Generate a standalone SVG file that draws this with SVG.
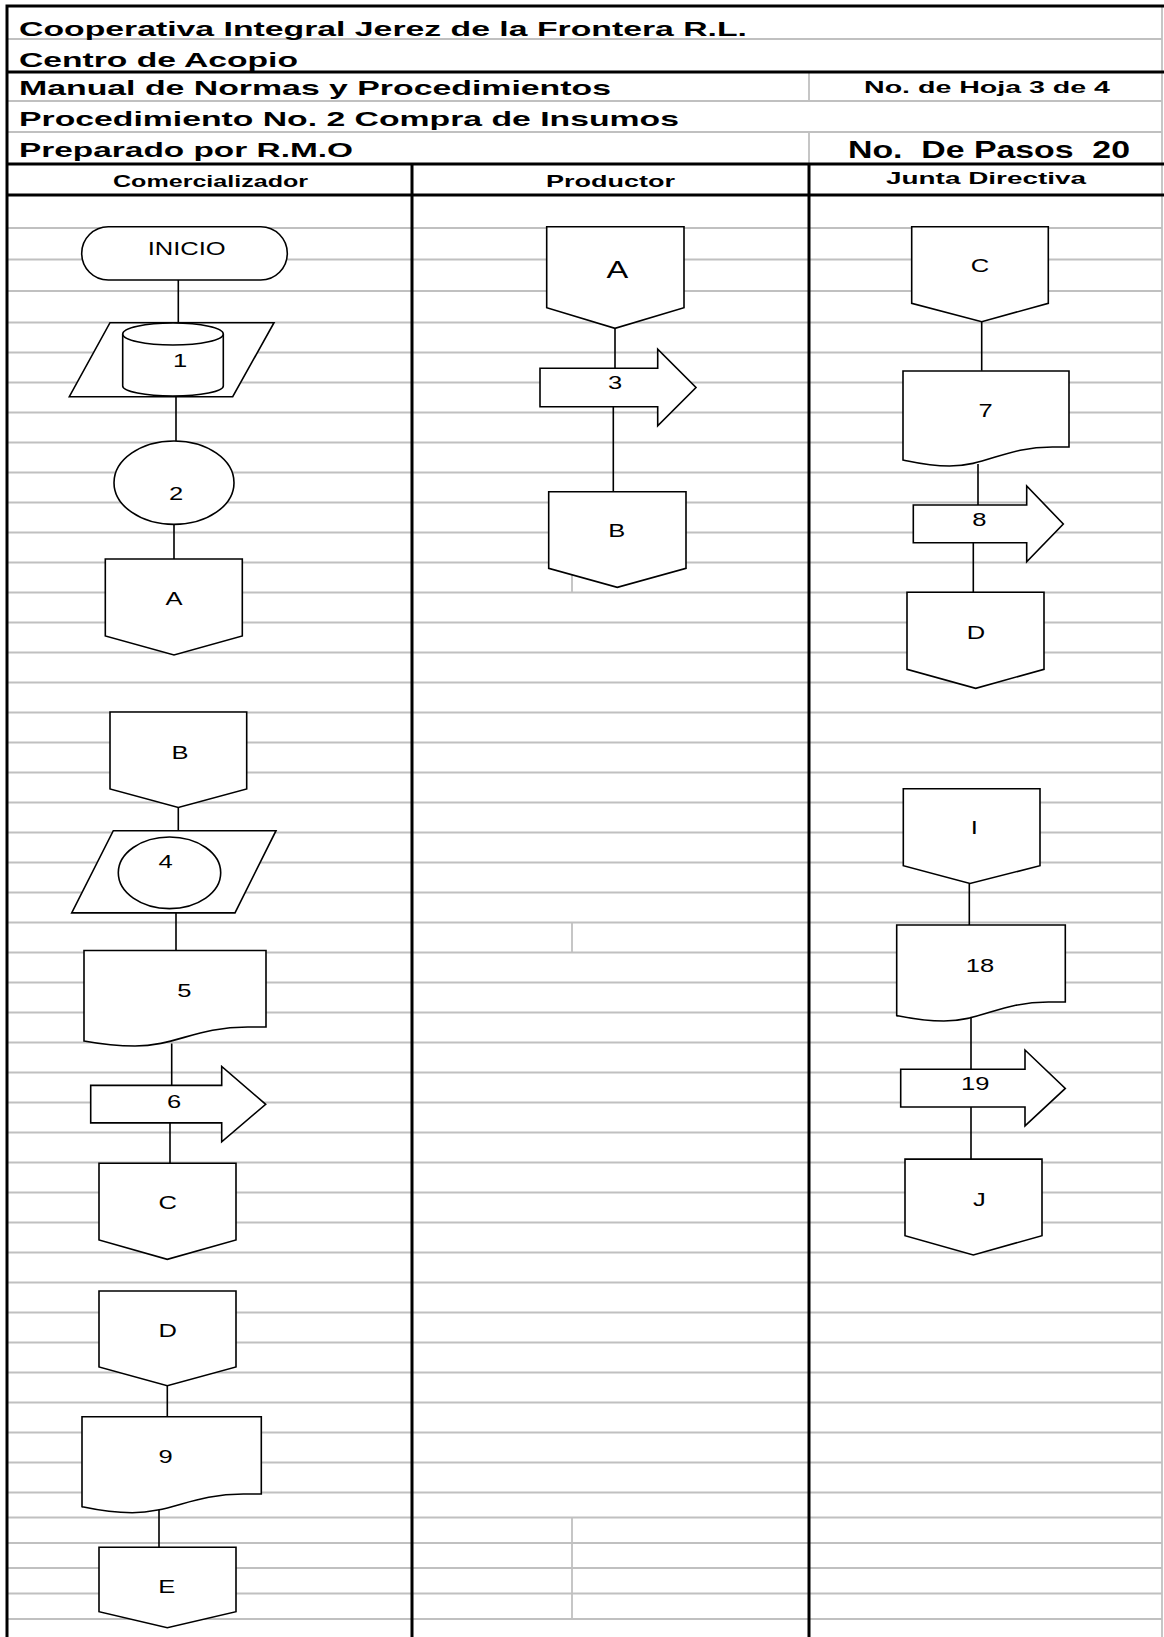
<svg xmlns="http://www.w3.org/2000/svg" width="1164" height="1637" viewBox="0 0 1164 1637">
<style>
.grid{fill:none;stroke:#c0c0c0;stroke-width:1.8}
.bord{fill:none;stroke:#000;stroke-width:3}
.shape{fill:#fff;stroke:#000;stroke-width:1.6;stroke-linejoin:miter}
.conn{fill:none;stroke:#000;stroke-width:1.6}
.h{font-family:"Liberation Sans",Arial,sans-serif;font-weight:bold;fill:#000}
.pre{white-space:pre}
.n{font-family:"Liberation Sans",Arial,sans-serif;font-size:18.5px;fill:#000;text-anchor:middle}
.big{font-size:24px}
</style>
<rect x="0" y="0" width="1164" height="1637" fill="#fff"/>
<g id="grid">
<path class="grid" d="M7 39H1162M7 101H1162M7 132H1162M7 228H1162M7 259.5H1162M7 291H1162M7 322.5H1162M7 352.5H1162M7 382.5H1162M7 412.5H1162M7 442.5H1162M7 472.5H1162M7 502.5H1162M7 532.5H1162M7 562.5H1162M7 592.5H1162M7 622.5H1162M7 652.5H1162M7 682.5H1162M7 712.5H1162M7 742.5H1162M7 772.5H1162M7 802.5H1162M7 832.5H1162M7 862.5H1162M7 892.5H1162M7 922.5H1162M7 952.5H1162M7 982.5H1162M7 1012.5H1162M7 1042.5H1162M7 1072.5H1162M7 1102.5H1162M7 1132.5H1162M7 1162.5H1162M7 1192.5H1162M7 1222.5H1162M7 1252.5H1162M7 1282.5H1162M7 1312.5H1162M7 1342.5H1162M7 1372.5H1162M7 1402.5H1162M7 1432.5H1162M7 1462.5H1162M7 1492.5H1162M7 1517.5H1162M7 1543H1162M7 1568H1162M7 1593.5H1162M7 1619H1162"/>
<path class="grid" d="M809 72V101M809 132V164M572 562.5V592.5M572 922.5V952.5M572 1517.5V1619M1162 6V1637"/>
</g>
<g id="frame">
<path class="bord" d="M5.5 6H1164M5.5 72H1164M5.5 164H1164M5.5 195H1164M7 4.5V1637M412 164V1637M809 164V1637"/>
</g>
<g id="header">
<text class="h" x="19" y="36" font-size="21" textLength="728" lengthAdjust="spacingAndGlyphs">Cooperativa Integral Jerez de la Frontera R.L.</text>
<text class="h" x="19" y="67" font-size="21" textLength="279" lengthAdjust="spacingAndGlyphs">Centro de Acopio</text>
<text class="h" x="19" y="95" font-size="21" textLength="592" lengthAdjust="spacingAndGlyphs">Manual de Normas y Procedimientos</text>
<text class="h" x="864" y="93" font-size="16" textLength="246" lengthAdjust="spacingAndGlyphs">No. de Hoja 3 de 4</text>
<text class="h" x="19" y="126" font-size="21" textLength="660" lengthAdjust="spacingAndGlyphs">Procedimiento No. 2 Compra de Insumos</text>
<text class="h" x="19" y="157" font-size="21" textLength="334" lengthAdjust="spacingAndGlyphs">Preparado por R.M.O</text>
<text class="h pre" xml:space="preserve" x="848" y="158" font-size="23" textLength="282" lengthAdjust="spacingAndGlyphs">No.  De Pasos  20</text>
<text class="h" x="113" y="187" font-size="17" textLength="195" lengthAdjust="spacingAndGlyphs">Comercializador</text>
<text class="h" x="546" y="187" font-size="17" textLength="129" lengthAdjust="spacingAndGlyphs">Productor</text>
<text class="h" x="886" y="184" font-size="17" textLength="200" lengthAdjust="spacingAndGlyphs">Junta Directiva</text>
</g>
<g id="connectors">
<path class="conn" d="M178.3 280V322.7M176 396.7V441M174 524.3V559M615 328.3V368.3M613.3 406.7V491.7M981.7 321.7V370.7M978 464V505M973.3 542.7V592.3M178.3 807.5V830.7M176 912.9V950.4M171.7 1043.6V1085.4M170 1122.9V1163.2M167.3 1385.7V1416.7M159 1508V1549M969.3 883.5V924.9M971 1017V1069.2M971 1107V1159.1"/>
</g>
<g id="n-inicio">
<rect class="shape" x="81.7" y="226.7" width="205.6" height="53.3" rx="26.6" ry="26.6"/>
<text class="n" transform="translate(186.7 255) scale(1.38 1)">INICIO</text>
</g>
<g id="n-1">
<path class="shape" d="M110 322.7H274L232.7 396.7H69.3Z"/>
<path class="shape" d="M122.7 334V386A50.3 10 0 0 0 223.3 386V334"/>
<ellipse class="shape" cx="173" cy="334" rx="50.3" ry="11"/>
<text class="n" transform="translate(180 366.7) scale(1.38 1)">1</text>
</g>
<g id="n-2">
<ellipse class="shape" cx="174" cy="482.7" rx="60" ry="41.7"/>
<text class="n" transform="translate(176 500) scale(1.38 1)">2</text>
</g>
<g id="n-a1">
<path class="shape" d="M105.3 559H242.3V636L174 655L105.3 636Z"/>
<text class="n" transform="translate(174 605) scale(1.38 1)">A</text>
</g>
<g id="n-a2">
<path class="shape" d="M546.7 226.7H684V307.7L615 328.3L546.7 307.7Z"/>
<text class="n big" transform="translate(617.3 278.3) scale(1.36 1)">A</text>
</g>
<g id="n-3">
<path class="shape" d="M540 368.3H657.7V349.3L696 387.5L657.7 425.7V406.7H540Z"/>
<text class="n" transform="translate(615 389.3) scale(1.38 1)">3</text>
</g>
<g id="n-b2">
<path class="shape" d="M548.7 491.7H686V568.3L617.3 587.3L548.7 568.3Z"/>
<text class="n" transform="translate(616.7 537.3) scale(1.38 1)">B</text>
</g>
<g id="n-c2">
<path class="shape" d="M911.7 226.7H1048.3V303.3L981.7 321.7L911.7 303.3Z"/>
<text class="n" transform="translate(980 272.3) scale(1.38 1)">C</text>
</g>
<g id="n-7">
<path class="shape" d="M903 371H1069V447H1052.4C1005.9 447 986 466 949.5 466C927.9 466 913 462 903 460Z"/>
<text class="n" transform="translate(985.7 416.7) scale(1.38 1)">7</text>
</g>
<g id="n-8">
<path class="shape" d="M913.3 505H1026.7V486L1063.3 524L1026.7 561.7V542.7H913.3Z"/>
<text class="n" transform="translate(979.3 525.7) scale(1.38 1)">8</text>
</g>
<g id="n-d2">
<path class="shape" d="M907 592.3H1044V669.3L975.7 688.3L907 669.3Z"/>
<text class="n" transform="translate(976 639) scale(1.38 1)">D</text>
</g>
<g id="n-b1">
<path class="shape" d="M110 712H246.7V789L178.3 807.5L110 789Z"/>
<text class="n" transform="translate(180 758.6) scale(1.38 1)">B</text>
</g>
<g id="n-4">
<path class="shape" d="M113.3 830.7H276L235 912.9H71.7Z"/>
<ellipse class="shape" cx="169.5" cy="872.8" rx="51.2" ry="35.8"/>
<text class="n" transform="translate(165.7 867.5) scale(1.38 1)">4</text>
</g>
<g id="n-5">
<path class="shape" d="M84 950.5H266V1027H247.8C196.8 1027 175 1046 135 1046C111.3 1046 94.9 1043 84 1041Z"/>
<text class="n" transform="translate(184.3 997) scale(1.38 1)">5</text>
</g>
<g id="n-6">
<path class="shape" d="M90.7 1085.4H221.7V1066.4L265.7 1104.3L221.7 1141.8V1122.9H90.7Z"/>
<text class="n" transform="translate(174 1107.5) scale(1.38 1)">6</text>
</g>
<g id="n-c1">
<path class="shape" d="M99 1163.2H236V1240L167.3 1259.3L99 1240Z"/>
<text class="n" transform="translate(167.7 1209.3) scale(1.38 1)">C</text>
</g>
<g id="n-d1">
<path class="shape" d="M99 1291H236V1367L167.3 1385.7L99 1367Z"/>
<text class="n" transform="translate(167.7 1336.7) scale(1.38 1)">D</text>
</g>
<g id="n-9">
<path class="shape" d="M82 1416.7H261.3V1494H243.4C193.2 1494 171.7 1512.7 132.2 1512.7C108.9 1512.7 92.8 1509 82 1506.7Z"/>
<text class="n" transform="translate(165.7 1462.7) scale(1.38 1)">9</text>
</g>
<g id="n-e">
<path class="shape" d="M99 1547.3H236V1611.7L167.3 1627.7L99 1611.7Z"/>
<text class="n" transform="translate(166.7 1593.3) scale(1.38 1)">E</text>
</g>
<g id="n-i">
<path class="shape" d="M903.3 788.8H1040V865.7L970 883.5L903.3 865.7Z"/>
<text class="n" transform="translate(974.3 834.3) scale(1.38 1)">I</text>
</g>
<g id="n-18">
<path class="shape" d="M896.7 925H1065.3V1002H1048.4C1001.2 1002 981 1021 943.9 1021C922 1021 906.8 1017.6 896.7 1015.6Z"/>
<text class="n" transform="translate(980 972) scale(1.38 1)">18</text>
</g>
<g id="n-19">
<path class="shape" d="M900.7 1069.2H1025V1050L1065.3 1088.4L1025 1125.8V1107H900.7Z"/>
<text class="n" transform="translate(975.3 1090.3) scale(1.38 1)">19</text>
</g>
<g id="n-j">
<path class="shape" d="M905 1159.1H1042V1235.7L973.3 1255L905 1235.7Z"/>
<text class="n" transform="translate(979.3 1206) scale(1.38 1)">J</text>
</g>
</svg>
